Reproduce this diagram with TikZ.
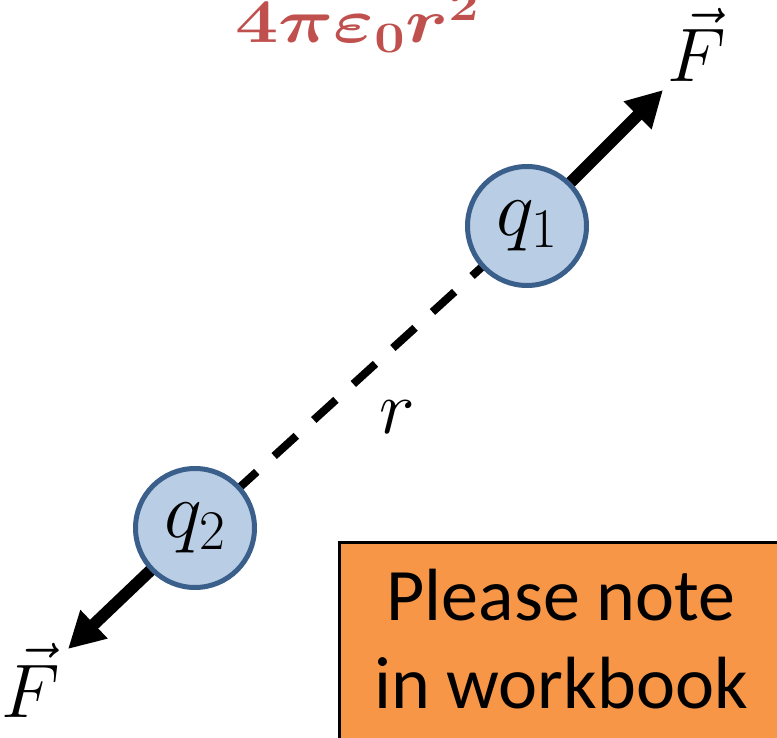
\RequirePackage{fix-cm}
\documentclass[tikz,border=0pt]{standalone}
\usepackage{fontspec}
\usepackage{amsmath}
\newfontfamily\notefont{Carlito}
\usetikzlibrary{arrows.meta,backgrounds}
\definecolor{chargefill}{HTML}{B9CDE5}
\definecolor{chargeborder}{HTML}{3A5F8B}
\definecolor{formulared}{HTML}{C0504D}
\definecolor{noteorange}{HTML}{F79646}
\begin{document}
\begin{tikzpicture}[x=1pt,y=-1pt,
  charge/.style={circle, draw=chargeborder, fill=chargefill, line width=5pt,
    minimum size=119pt, inner sep=0pt, font=\fontsize{80}{84}\selectfont},
  lbl/.style={inner sep=0pt, font=\fontsize{76}{80}\selectfont},
  formula/.style={inner sep=0pt, text=formulared, xscale=1.24, font=\fontsize{62}{62}\selectfont\boldmath},
  rline/.style={line width=8pt, dash pattern=on 30pt off 23.5pt},
  force/.style={line width=12pt, -{Triangle[length=36pt,width=37pt]}},
  notebox/.style={draw=black, fill=noteorange, line width=3pt, inner sep=0pt},
  notetext/.style={inner sep=0pt, align=center, font=\notefont\fontsize{74}{88}\selectfont}
]
\useasboundingbox (0,0) rectangle (777,738);
\clip (0,0) rectangle (777,738);

% formula (cut off at the top)
\node[formula, anchor=base west] (k) at (235,43) {$4\pi\varepsilon_0 r^2$};

% charges
\node[charge] (q1) at (527,226) {$q_1$};
\node[charge] (q2) at (195,528) {$q_2$};

% end points of force arrows
\coordinate (tip1) at (663,90);
\coordinate (tip2) at (68,649);

\begin{scope}[on background layer]
  \draw[rline] (q2.center) -- (q1.center);
  \draw[force] (q1.center) -- (tip1);
  \draw[force] (q2.center) -- (tip2);
\end{scope}

% labels
\node[lbl, anchor=base] (F1) at (697,82) {$\vec{F}$};
\node[lbl, anchor=base] (F2) at (31,717) {$\vec{F}$};
\node[lbl, anchor=base] (r) at (397,433) {$r$};

% note box
\node[notebox, anchor=north west, minimum width=447pt, minimum height=300pt] (note) at (337.5,540.5) {};
\node[notetext, anchor=base] (notetxt) at (561,708) {Please note\\in workbook};
\end{tikzpicture}
\end{document}
